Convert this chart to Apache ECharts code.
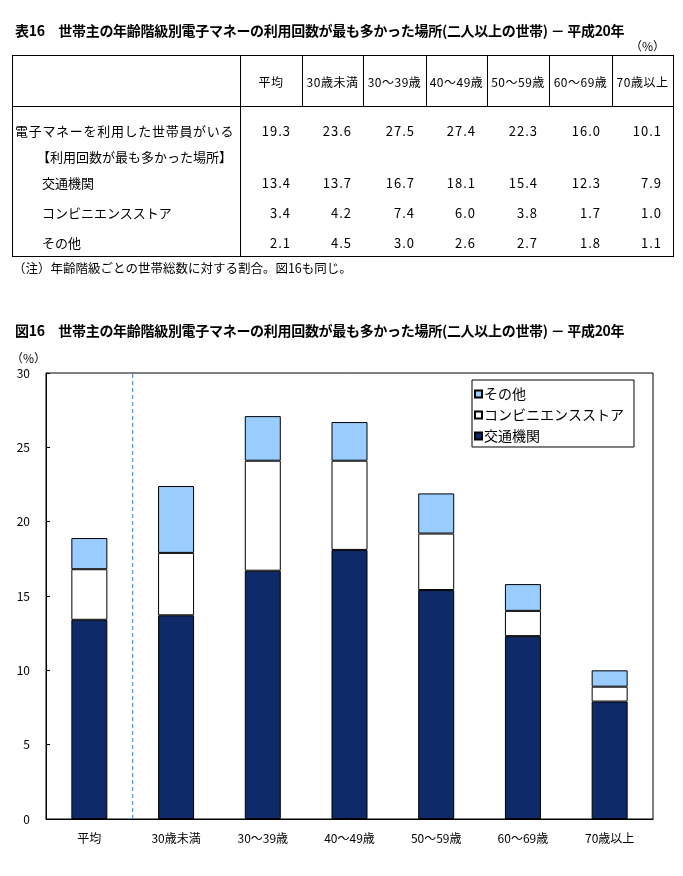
<!DOCTYPE html>
<html><head><meta charset="utf-8">
<script src="https://cdn.jsdelivr.net/npm/echarts@6/dist/echarts.min.js"></script>
<style>
html,body{margin:0;padding:0;background:#fff;}
body{width:683px;height:876px;position:relative;overflow:hidden;font-family:"Noto Sans CJK JP","Noto Sans",sans-serif;color:#000;}
.abs{position:absolute;white-space:nowrap;}
.title{font-weight:bold;font-size:14px;line-height:16px;letter-spacing:-0.3px;}
.hl{position:absolute;background:#000;}
</style></head>
<body>
<div id="chart" style="position:absolute;left:0;top:0;width:683px;height:876px;"></div>
<div id="tbl"></div>
<script>
// ---- data ----
const categories = ['平均','30歳未満','30～39歳','40～49歳','50～59歳','60～69歳','70歳以上'];
const rowLabels = ['電子マネーを利用した世帯員がいる','【利用回数が最も多かった場所】','交通機関','コンビニエンスストア','その他'];
const totalUsers = [19.3,23.6,27.5,27.4,22.3,16.0,10.1];
const transport = [13.4,13.7,16.7,18.1,15.4,12.3,7.9];
const convenience = [3.4,4.2,7.4,6.0,3.8,1.7,1.0];
const others = [2.1,4.5,3.0,2.6,2.7,1.8,1.1];
const seriesNames = ['交通機関','コンビニエンスストア','その他'];
const yTicks = [0,5,10,15,20,25,30];
const tableTitle = '表16　世帯主の年齢階級別電子マネーの利用回数が最も多かった場所(二人以上の世帯) － 平成20年';
const figTitle = '図16　世帯主の年齢階級別電子マネーの利用回数が最も多かった場所(二人以上の世帯) － 平成20年';
const noteText = '（注）年齢階級ごとの世帯総数に対する割合。図16も同じ。';
const unitText = '（%）';

// ---- table (HTML) ----
const tbl = document.getElementById('tbl');
function add(html, style, cls){const d=document.createElement('div');d.className=cls||'abs';d.innerHTML=html;Object.assign(d.style,style);tbl.appendChild(d);return d;}
add(tableTitle,{left:'15px',top:'22px'},'abs title');
add(figTitle,{left:'15px',top:'322px'},'abs title');
add(unitText,{left:'630px',top:'38px',fontSize:'12px',lineHeight:'16px'});
add(noteText,{left:'13px',top:'260px',fontSize:'12.5px',lineHeight:'16px'});

const colX = [12,240,302,363,426,487,549,612,673];
const tTop = 55, hBottom = 106, tBottom = 256;
// borders
add('',{left:colX[0]+'px',top:tTop+'px',width:(colX[8]-colX[0])+'px',height:'1px'},'hl');
add('',{left:colX[0]+'px',top:hBottom+'px',width:(colX[8]-colX[0])+'px',height:'1px'},'hl');
add('',{left:colX[0]+'px',top:tBottom+'px',width:(colX[8]-colX[0]+1)+'px',height:'1px'},'hl');
add('',{left:colX[0]+'px',top:tTop+'px',width:'1px',height:(tBottom-tTop)+'px'},'hl');
add('',{left:colX[8]+'px',top:tTop+'px',width:'1px',height:(tBottom-tTop)+'px'},'hl');
add('',{left:colX[1]+'px',top:tTop+'px',width:'1px',height:(tBottom-tTop)+'px'},'hl');
for(let i=2;i<8;i++) add('',{left:colX[i]+'px',top:tTop+'px',width:'1px',height:(hBottom-tTop)+'px'},'hl');
// header
categories.forEach((c,i)=>{
  const l=colX[i+1], r=colX[i+2];
  add(c,{left:l+'px',width:(r-l)+'px',top:'74px',textAlign:'center',fontSize:'12px',lineHeight:'16px',letterSpacing:'0.5px'});
});
// body
const rowY = [131,157,183,213,243];
const rowLX = [15,37,42,42,42];
const rowData = [totalUsers,null,transport,convenience,others];
rowLabels.forEach((lab,j)=>{
  add(lab,{left:rowLX[j]+'px',top:(rowY[j]-8)+'px',fontSize:'13px',lineHeight:'16px',letterSpacing:j==0?'0.7px':'0px'});
  if(rowData[j]) rowData[j].forEach((v,i)=>{
    const r=colX[i+2];
    add(v.toFixed(1),{left:(r-70)+'px',width:'59px',top:(rowY[j]-8)+'px',textAlign:'right',fontSize:'13px',lineHeight:'16px',letterSpacing:'1px'});
  });
});

// ---- chart ----
const chart = echarts.init(document.getElementById('chart'),null,{renderer:'canvas'});
const font = '"Noto Sans CJK JP","Noto Sans",sans-serif';
const border = {borderColor:'#000',borderWidth:1};
chart.setOption({
  animation:false,
  textStyle:{fontFamily:font,color:'#000'},
  grid:{left:46,right:30,top:373,bottom:57,show:true,borderColor:'#000',borderWidth:1,containLabel:false},
  legend:{
    data:['その他','コンビニエンスストア','交通機関'],
    orient:'vertical',left:472,top:380,
    itemWidth:7,itemHeight:7,itemGap:7,
    padding:[7,10,4,2],
    borderColor:'#000',borderWidth:1,backgroundColor:'#fff',
    icon:'rect',
    textStyle:{fontFamily:font,fontSize:14,color:'#000',padding:[0,0,0,-3]}
  },
  xAxis:[{
    type:'category',data:categories,
    axisLine:{lineStyle:{color:'#000',width:1}},
    axisTick:{inside:true,length:4,lineStyle:{color:'#000'}},
    axisLabel:{color:'#000',fontSize:12,margin:13,interval:0,fontFamily:font},
    splitLine:{show:false}
  },{
    type:'value',min:-0.5,max:6.5,show:false
  }],
  yAxis:{
    type:'value',min:yTicks[0],max:yTicks[yTicks.length-1],interval:5,
    name:unitText,nameLocation:'end',nameGap:9,
    nameTextStyle:{align:'right',fontSize:12,color:'#000',fontFamily:font},
    axisLine:{show:true,onZero:false,lineStyle:{color:'#000',width:1}},
    axisTick:{show:true,inside:true,length:4,lineStyle:{color:'#000'}},
    axisLabel:{color:'#000',fontSize:12,margin:16,fontFamily:font},
    splitLine:{show:false}
  },
  series:[
    {name:seriesNames[0],type:'bar',stack:'a',barWidth:36,data:transport,itemStyle:Object.assign({color:'#0f2a68'},border)},
    {name:seriesNames[1],type:'bar',stack:'a',barWidth:36,data:convenience,itemStyle:Object.assign({color:'#ffffff'},border)},
    {name:seriesNames[2],type:'bar',stack:'a',barWidth:36,data:others,itemStyle:Object.assign({color:'#99ccff'},border)},
    {name:'sep',type:'line',xAxisIndex:1,data:[[0.5,0],[0.5,30]],symbol:'none',silent:true,
     lineStyle:{color:'#3b7dc8',width:1,type:[4,3]}}
  ]
});
</script>
</body></html>
